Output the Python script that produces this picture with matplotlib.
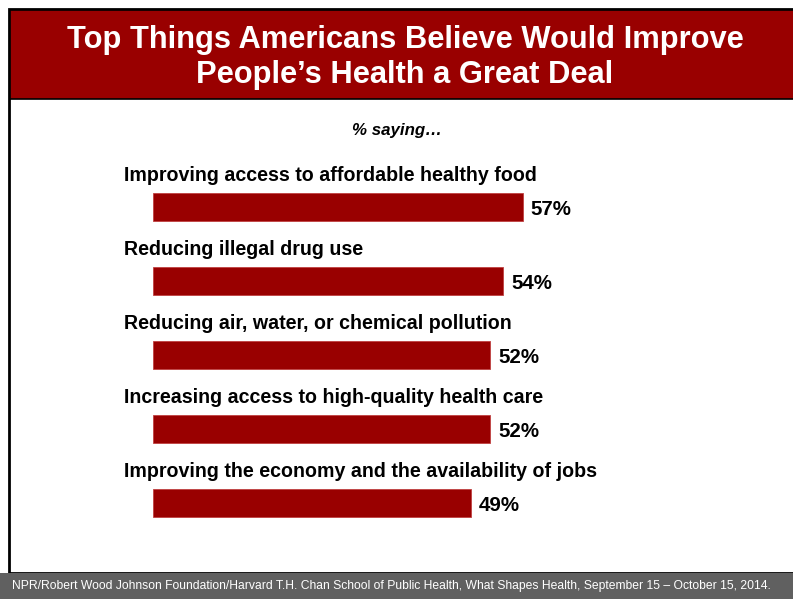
import matplotlib.pyplot as plt
from matplotlib.patches import Rectangle

plt.rcParams['font.family'] = ['Liberation Sans', 'DejaVu Sans']

categories = [
    "Improving access to affordable healthy food",
    "Reducing illegal drug use",
    "Reducing air, water, or chemical pollution",
    "Increasing access to high-quality health care",
    "Improving the economy and the availability of jobs",
]
values = [57, 54, 52, 52, 49]

title = "Top Things Americans Believe Would Improve\nPeople\u2019s Health a Great Deal"
subtitle = "% saying\u2026"
source = ("NPR/Robert Wood Johnson Foundation/Harvard T.H. Chan School of Public Health, "
          "What Shapes Health, September 15 \u2013 October 15, 2014.")

RED = '#990000'
W, H = 793, 599

fig = plt.figure(figsize=(W / 100, H / 100), dpi=100)


def fx(px):
    return px / W


def fy(py):
    return 1 - py / H


# frame, banner and footer band (kept under the axes)
fig.patches.append(Rectangle((fx(9), fy(573)), fx(800) - fx(9), fy(9) - fy(573),
                             transform=fig.transFigure, facecolor='white',
                             edgecolor='black', linewidth=2, zorder=-3))
fig.patches.append(Rectangle((fx(10), fy(99)), 1, fy(10) - fy(99),
                             transform=fig.transFigure, facecolor=RED,
                             edgecolor='black', linewidth=1.2, zorder=-2))
fig.patches.append(Rectangle((0, 0), 1, fy(573), transform=fig.transFigure,
                             facecolor='#606060', edgecolor='none', zorder=-2))

fig.text(fx(405), fy(57.5), title, ha='center', va='center', color='white',
         fontsize=22.2, fontweight='bold', linespacing=1.22)
fig.text(fx(397), fy(130), subtitle, ha='center', va='center',
         fontsize=12.2, fontweight='bold', fontstyle='italic')
fig.text(fx(12), fy(586), source, ha='left', va='center', color='white',
         fontsize=8.75)

# bar area: 6.49 px per percentage point, 74 px per row
ax = fig.add_axes([fx(153), fy(539.5), 90 * 6.49 / W, 370 / H])
ax.set_xlim(0, 90)
ax.set_ylim(4.5, -0.5)
ax.axis('off')

pos = range(len(values))
ax.barh(pos, values, height=28 / 74, color=RED, edgecolor='#c04040', linewidth=0.6)

for i, (cat, v) in enumerate(zip(categories, values)):
    ax.text(-4.4, i - 0.42, cat, ha='left', va='center', fontsize=14.1,
            fontweight='bold', clip_on=False)
    ax.text(v + 1.2, i + 0.04, f"{v}%", ha='left', va='center', fontsize=14.8,
            fontweight='bold')

fig.savefig('out.png', dpi=100)
